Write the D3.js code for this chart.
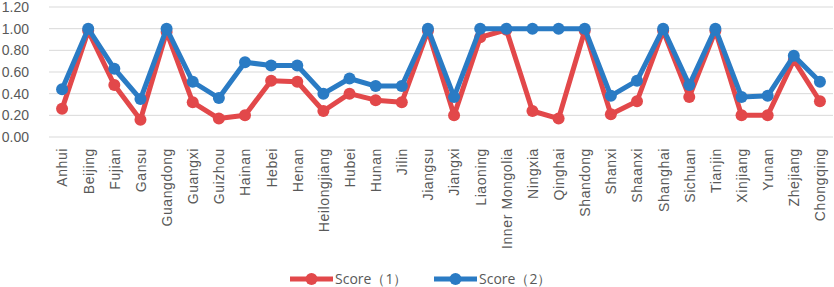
<!DOCTYPE html>
<html>
<head>
<meta charset="utf-8">
<script src="https://cdn.jsdelivr.net/npm/d3@7"></script>
<style>
  body { margin: 0; background: #fff; }
  svg { display: block; font-family: "Open Sans", "Noto Sans", sans-serif; }
</style>
</head>
<body>
<div id="chart"></div>
<script>
// data
const provinces = ['Anhui','Beijing','Fujian','Gansu','Guangdong','Guangxi','Guizhou','Hainan','Hebei','Henan',
  'Heilongjiang','Hubei','Hunan','Jilin','Jiangsu','Jiangxi','Liaoning','Inner Mongolia','Ningxia','Qinghai',
  'Shandong','Shanxi','Shaanxi','Shanghai','Sichuan','Tianjin','Xinjiang','Yunan','Zhejiang','Chongqing'];

const score1 = [0.26,0.98,0.48,0.16,0.97,0.32,0.17,0.20,0.52,0.51,
  0.24,0.40,0.34,0.32,0.98,0.20,0.92,0.99,0.24,0.17,
  0.98,0.21,0.33,0.98,0.37,0.98,0.20,0.20,0.71,0.33];

const score2 = [0.44,1.00,0.63,0.35,1.00,0.51,0.36,0.69,0.66,0.66,
  0.40,0.54,0.47,0.47,1.00,0.37,1.00,1.00,1.00,1.00,
  1.00,0.38,0.52,1.00,0.48,1.00,0.37,0.38,0.75,0.51];

const yTicks = [0, 0.2, 0.4, 0.6, 0.8, 1.0, 1.2];
const seriesNames = ['Score（1）', 'Score（2）'];
const colors = ['#E2484A', '#2A7BC4'];

const width = 834, height = 287;
const margin = {top: 7, right: 1, bottom: 150, left: 49};
const innerWidth = width - margin.left - margin.right,
      innerHeight = height - margin.top - margin.bottom;

const svg = d3.select('#chart').append('svg')
  .attr('width', width)
  .attr('height', height);

const x = d3.scalePoint()
  .domain(provinces)
  .range([0, innerWidth])
  .padding(0.5);

const y = d3.scaleLinear()
  .domain([0, 1.2])
  .range([innerHeight, 0]);

const g = svg.append('g')
  .attr('transform', `translate(${margin.left},${margin.top})`);

// gridlines
g.append('g')
  .selectAll('line')
  .data(yTicks)
  .join('line')
  .attr('x1', 0)
  .attr('x2', innerWidth)
  .attr('y1', d => y(d))
  .attr('y2', d => y(d))
  .attr('stroke', '#d9d9d9')
  .attr('stroke-width', 1);

// y axis labels
const yAxis = g.append('g')
  .call(d3.axisLeft(y).tickValues(yTicks).tickFormat(d3.format('.2f')).tickSize(0).tickPadding(20));
yAxis.select('.domain').remove();
yAxis.selectAll('text')
  .attr('fill', '#595959')
  .style('font-size', '14px');

// x axis labels
const xAxis = g.append('g')
  .attr('transform', `translate(0,${innerHeight})`)
  .call(d3.axisBottom(x).tickSize(0));
xAxis.select('.domain').remove();
xAxis.selectAll('text')
  .attr('fill', '#595959')
  .style('font-size', '14px')
  .style('letter-spacing', '0.6px')
  .attr('text-anchor', 'end')
  .attr('transform', 'rotate(-90)')
  .attr('x', -11)
  .attr('y', 0)
  .attr('dy', '0.35em');

// series
const line = d3.line()
  .x((d, i) => x(provinces[i]))
  .y(d => y(d));

[score1, score2].forEach((vals, si) => {
  const s = g.append('g');
  s.append('path')
    .datum(vals)
    .attr('fill', 'none')
    .attr('stroke', colors[si])
    .attr('stroke-width', 5)
    .attr('stroke-linejoin', 'round')
    .attr('d', line);
  s.selectAll('circle')
    .data(vals)
    .join('circle')
    .attr('cx', (d, i) => x(provinces[i]))
    .attr('cy', d => y(d))
    .attr('r', 6)
    .attr('fill', colors[si]);
});

// legend
const legendX = [290, 434];
const legend = svg.append('g');
seriesNames.forEach((name, i) => {
  const lg = legend.append('g').attr('transform', `translate(${legendX[i]},279)`);
  lg.append('line')
    .attr('x1', 0).attr('x2', 43)
    .attr('stroke', colors[i])
    .attr('stroke-width', 5);
  lg.append('circle')
    .attr('cx', 21.5)
    .attr('r', 6)
    .attr('fill', colors[i]);
  lg.append('text')
    .attr('x', 45)
    .attr('dy', '0.35em')
    .attr('fill', '#595959')
    .style('font-size', '14px')
    .text(name);
});
</script>
</body>
</html>
